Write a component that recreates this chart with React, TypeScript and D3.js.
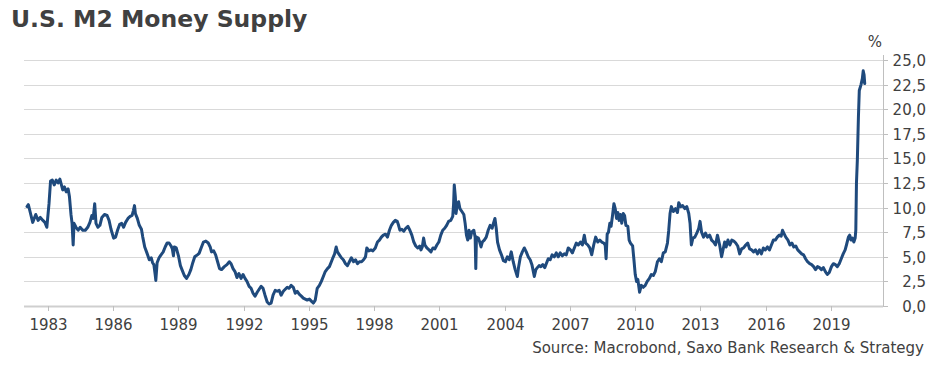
import React from 'react';
import * as d3 from 'd3';

const title = 'U.S. M2 Money Supply';
const source = 'Source: Macrobond, Saxo Bank Research & Strategy';
const unit = '%';
const xTicks = [1983, 1986, 1989, 1992, 1995, 1998, 2001, 2004, 2007, 2010, 2013, 2016, 2019];
const yTicks = [0, 2.5, 5, 7.5, 10, 12.5, 15, 17.5, 20, 22.5, 25];

const dates = [
  1982.04, 1982.1, 1982.2, 1982.3, 1982.44, 1982.55, 1982.65, 1982.77, 1982.86, 1982.95,
  1983.05, 1983.12, 1983.2, 1983.29, 1983.38, 1983.47, 1983.55, 1983.62, 1983.68, 1983.76,
  1983.84, 1983.93, 1983.99, 1984.06, 1984.11, 1984.16, 1984.2, 1984.29, 1984.39, 1984.48,
  1984.6, 1984.72, 1984.83, 1984.93, 1985.02, 1985.08, 1985.15, 1985.21, 1985.3, 1985.39,
  1985.48, 1985.6, 1985.72, 1985.81, 1985.9, 1986.02, 1986.11, 1986.2, 1986.3, 1986.39,
  1986.48, 1986.57, 1986.68, 1986.78, 1986.87, 1986.93, 1986.98, 1987.02, 1987.11, 1987.2,
  1987.3, 1987.36, 1987.45, 1987.55, 1987.66, 1987.75, 1987.81, 1987.87, 1987.93, 1987.96,
  1988.02, 1988.11, 1988.2, 1988.3, 1988.39, 1988.48, 1988.57, 1988.66, 1988.72, 1988.77,
  1988.81, 1988.9, 1989.0, 1989.09, 1989.18, 1989.27, 1989.37, 1989.48, 1989.57, 1989.66,
  1989.75, 1989.87,
  1989.95, 1990.06, 1990.15, 1990.26, 1990.37, 1990.46, 1990.52, 1990.62, 1990.71, 1990.8,
  1990.89, 1990.98, 1991.11, 1991.23, 1991.34, 1991.42, 1991.51, 1991.6, 1991.69, 1991.78,
  1991.88, 1991.97, 1992.06, 1992.15, 1992.25, 1992.34, 1992.43, 1992.52, 1992.62, 1992.71,
  1992.8, 1992.89, 1992.98, 1993.08, 1993.17, 1993.26, 1993.35, 1993.45, 1993.54, 1993.63,
  1993.72, 1993.82, 1993.91, 1994.0, 1994.09, 1994.18, 1994.28, 1994.37, 1994.46, 1994.55,
  1994.65, 1994.74, 1994.83, 1994.92, 1995.02, 1995.11, 1995.2, 1995.29, 1995.38, 1995.48,
  1995.57, 1995.66, 1995.75, 1995.85, 1995.94, 1996.03, 1996.12, 1996.18, 1996.25, 1996.31,
  1996.4, 1996.49, 1996.58, 1996.68, 1996.77, 1996.86, 1996.95, 1997.05, 1997.14, 1997.23,
  1997.32, 1997.42, 1997.51, 1997.6, 1997.66, 1997.75, 1997.85, 1997.94,
  1998.05, 1998.15, 1998.24, 1998.33, 1998.42, 1998.52, 1998.61, 1998.7, 1998.79, 1998.88,
  1998.97, 1999.06, 1999.12, 1999.18, 1999.27, 1999.36, 1999.45, 1999.55, 1999.64, 1999.73,
  1999.82, 1999.91, 2000.0, 2000.09, 2000.15, 2000.21, 2000.27, 2000.33, 2000.42, 2000.52,
  2000.61, 2000.7, 2000.79, 2000.88, 2000.97, 2001.06, 2001.15, 2001.24, 2001.33, 2001.42,
  2001.52, 2001.61, 2001.65, 2001.68, 2001.73, 2001.76, 2001.82, 2001.88, 2001.94, 2002.03,
  2002.12, 2002.18, 2002.24, 2002.3, 2002.36, 2002.42, 2002.48, 2002.58, 2002.64, 2002.67,
  2002.7, 2002.79, 2002.85, 2002.91, 2002.97, 2003.06, 2003.15, 2003.24, 2003.33, 2003.42,
  2003.48, 2003.55, 2003.61, 2003.67, 2003.76, 2003.85, 2003.94, 2004.03, 2004.12, 2004.21,
  2004.3, 2004.39, 2004.48, 2004.58, 2004.64, 2004.72, 2004.81, 2004.9, 2004.99, 2005.08,
  2005.17, 2005.25, 2005.36, 2005.43, 2005.5, 2005.58, 2005.66, 2005.75, 2005.84,
  2006.0, 2006.09, 2006.18, 2006.28, 2006.37, 2006.46, 2006.55, 2006.65, 2006.74, 2006.83,
  2006.92, 2007.02, 2007.11, 2007.2, 2007.29, 2007.38, 2007.48, 2007.57, 2007.66, 2007.72,
  2007.82, 2007.91, 2008.0, 2008.09, 2008.18, 2008.28, 2008.37, 2008.46, 2008.55, 2008.62,
  2008.66, 2008.71, 2008.77, 2008.83, 2008.89, 2008.95, 2009.02, 2009.08, 2009.14, 2009.2,
  2009.26, 2009.32, 2009.38, 2009.45, 2009.51, 2009.57, 2009.66, 2009.72, 2009.78, 2009.88,
  2009.94, 2010.0, 2010.06, 2010.12, 2010.2, 2010.28, 2010.37, 2010.46, 2010.55, 2010.65,
  2010.74, 2010.83, 2010.92, 2011.02, 2011.11, 2011.2, 2011.29, 2011.38, 2011.48, 2011.54,
  2011.6, 2011.66, 2011.75, 2011.85, 2011.94, 2012.0, 2012.09, 2012.18, 2012.28, 2012.37,
  2012.46, 2012.52, 2012.58, 2012.65, 2012.74, 2012.83, 2012.92, 2012.98, 2013.05, 2013.14,
  2013.23, 2013.32, 2013.42, 2013.51, 2013.6, 2013.69, 2013.78, 2013.88, 2013.97,
  2014.11, 2014.18, 2014.26, 2014.35, 2014.44, 2014.53, 2014.62, 2014.71, 2014.8, 2014.89,
  2014.98, 2015.08, 2015.17, 2015.26, 2015.35, 2015.44, 2015.53, 2015.62, 2015.71, 2015.8,
  2015.89, 2015.98, 2016.08, 2016.17, 2016.26, 2016.35, 2016.44, 2016.53, 2016.62, 2016.71,
  2016.77, 2016.83, 2016.92, 2017.02, 2017.11, 2017.2, 2017.29, 2017.38, 2017.47, 2017.56,
  2017.65, 2017.74, 2017.83, 2017.92, 2018.02, 2018.11, 2018.2, 2018.29, 2018.38, 2018.47,
  2018.56, 2018.65, 2018.74, 2018.83, 2018.92, 2019.02, 2019.11, 2019.2, 2019.29, 2019.38,
  2019.47, 2019.56, 2019.65, 2019.71, 2019.8, 2019.86, 2019.92, 2019.98, 2020.05, 2020.11,
  2020.14, 2020.17, 2020.21, 2020.26, 2020.3, 2020.38, 2020.44, 2020.48, 2020.52, 2020.55,
];

const values = [
  10.1, 10.3, 9.4, 8.5, 9.3, 8.7, 9.0, 8.7, 8.5, 8.0,
  10.4, 12.7, 12.8, 12.3, 12.8, 12.5, 12.9, 12.3, 11.8, 12.1,
  11.6, 11.9, 11.1, 9.3, 8.4, 6.2, 8.4, 8.0, 7.7, 8.0,
  7.7, 7.7, 8.0, 8.5, 9.2, 8.9, 10.4, 8.4, 8.0, 8.2,
  9.0, 9.3, 9.2, 8.7, 7.8, 6.9, 7.0, 7.7, 8.3, 8.4,
  8.0, 8.5, 8.9, 9.1, 9.2, 9.7, 10.2, 9.4, 8.9, 8.2,
  7.8, 7.0, 6.0, 5.4, 4.7, 4.9, 4.4, 4.2, 3.2, 2.6,
  4.4, 4.9, 5.2, 5.5, 6.0, 6.4, 6.4, 6.1, 5.8, 5.1,
  6.0, 5.9, 5.1, 4.1, 3.6, 3.1, 2.8, 3.2, 3.7, 4.4,
  5.0, 5.2,
  5.35, 6.0, 6.5, 6.6, 6.4, 6.0, 5.5, 5.6, 5.2, 4.5,
  3.8, 3.7, 4.0, 4.2, 4.5, 4.3, 3.8, 3.5, 2.9, 3.3,
  2.8, 3.2, 2.8, 2.5, 2.0, 1.8, 1.3, 1.0, 1.4, 1.7,
  2.0, 1.8, 1.1, 0.4, 0.2, 0.3, 1.1, 1.6, 1.5, 1.6,
  1.1, 1.5, 1.7, 1.9, 1.8, 2.1, 1.9, 1.3, 1.5, 1.2,
  1.0, 0.8, 0.7, 0.6, 0.7, 0.5, 0.3, 0.6, 1.8, 2.1,
  2.5, 3.0, 3.5, 3.8, 4.0, 4.5, 5.0, 5.3, 6.0, 5.5,
  5.2, 4.9, 4.7, 4.3, 4.1, 4.5, 4.9, 4.5, 4.7, 4.3,
  4.5, 4.5, 4.7, 5.0, 5.9, 5.6, 5.7, 5.6,
  5.9, 6.5, 6.7, 7.0, 7.2, 7.3, 7.0, 7.7, 8.2, 8.5,
  8.7, 8.6, 8.2, 7.7, 7.8, 7.6, 7.9, 8.1, 7.7, 7.2,
  6.5, 6.1, 5.9, 6.1, 5.7, 6.0, 6.9, 6.2, 5.9, 5.7,
  5.5, 5.9, 5.8, 6.2, 6.5, 7.2, 7.7, 7.9, 8.2, 8.6,
  8.7, 9.1, 10.4, 12.3, 11.1, 9.4, 10.3, 10.6, 9.9, 9.6,
  9.3, 8.4, 7.2, 6.7, 7.7, 6.9, 7.5, 7.7, 7.0, 3.8,
  7.0, 6.9, 6.5, 6.0, 6.5, 6.7, 7.0, 7.7, 8.2, 7.9,
  8.4, 8.9, 7.9, 6.5, 5.7, 5.2, 4.6, 4.5, 5.0, 4.7,
  5.5, 4.5, 3.7, 3.0, 4.0, 5.0, 5.5, 5.9, 5.5, 5.0,
  4.7, 4.2, 3.0, 3.7, 3.9, 4.1, 4.0, 4.2, 3.9,
  4.8, 4.7, 5.2, 5.0, 5.4, 5.0, 5.4, 5.1, 5.3, 5.2,
  5.9, 5.7, 5.4, 5.9, 6.4, 6.2, 6.5, 6.2, 7.2, 6.4,
  6.2, 5.9, 5.2, 6.2, 7.0, 6.5, 6.7, 6.5, 6.4, 6.2,
  4.8, 7.3, 7.5, 8.4, 8.1, 9.1, 10.4, 9.9, 8.9, 9.5,
  8.7, 9.3, 8.4, 9.4, 9.2, 8.2, 8.1, 6.7, 6.4, 6.1,
  4.7, 3.2, 2.5, 2.7, 1.4, 2.1, 1.9, 2.1, 2.5, 2.8,
  3.2, 3.1, 3.5, 4.5, 4.8, 4.5, 5.4, 5.5, 6.4, 7.7,
  9.4, 10.1, 9.6, 9.9, 9.5, 10.5, 10.1, 10.2, 9.9, 10.1,
  9.4, 8.4, 6.2, 6.9, 7.0, 7.4, 7.9, 8.6, 7.5, 7.0,
  7.4, 7.0, 7.2, 6.7, 6.5, 6.2, 7.2, 6.2, 5.0,
  6.5, 6.0, 6.7, 6.2, 6.7, 6.6, 6.4, 6.1, 5.3, 5.8,
  5.9, 6.2, 6.4, 5.8, 5.7, 5.5, 5.7, 5.3, 5.7, 5.3,
  5.9, 5.7, 6.0, 5.7, 6.2, 6.7, 6.7, 7.0, 7.2, 7.1,
  7.7, 7.4, 7.0, 6.7, 6.2, 6.4, 6.0, 6.1, 5.7, 5.5,
  5.3, 5.2, 4.8, 4.5, 4.3, 4.2, 4.0, 3.7, 4.0, 3.9,
  3.7, 3.9, 3.5, 3.2, 3.4, 4.0, 4.3, 4.2, 4.0, 4.3,
  4.8, 5.3, 5.7, 6.2, 7.0, 7.2, 6.7, 6.9, 6.5, 6.9,
  7.7, 12.5, 14.8, 19.2, 21.9, 22.5, 23.1, 23.9, 23.5, 22.6,
];

const fmt = (v: number) => d3.format('.1f')(v).replace('.', ',');

export default function App() {
  const W = 939;
  const H = 368;
  const left = 24;
  const right = 883;
  const x = d3.scaleLinear().domain([1981.9, 2021.39]).range([left, right]);
  const y = d3.scaleLinear().domain([0, 25]).range([306, 60]);
  const pts: [number, number][] = dates.map((d, i) => [d, values[i]]);
  const line = d3
    .line<[number, number]>()
    .x((d) => x(d[0]))
    .y((d) => y(d[1]));
  const font = '"DejaVu Sans", Verdana, sans-serif';
  const textColor = '#404040';

  return (
    <svg
      width={W}
      height={H}
      style={{ position: 'absolute', left: 0, top: 0, background: '#fff' }}
      fontFamily={font}
    >
      <text x={11} y={27} fontSize={23.5} fontWeight="bold" fill={textColor}>
        {title}
      </text>
      {yTicks.map((t) => {
        const yy = Math.round(y(t)) + 0.5;
        return (
          <g key={t}>
            <line
              x1={left}
              x2={right}
              y1={yy}
              y2={yy}
              stroke={t === 0 ? '#cfcfcf' : '#d9d9d9'}
              strokeWidth={t === 0 ? 2 : 1}
            />
            <line x1={right} x2={right + 5} y1={yy} y2={yy} stroke="#bfbfbf" strokeWidth={1} />
            <text
              x={926}
              y={yy}
              dy="0.36em"
              fontSize={15}
              textAnchor="end"
              fill={textColor}
            >
              {fmt(t)}
            </text>
          </g>
        );
      })}
      <line x1={right + 0.5} x2={right + 0.5} y1={55} y2={307} stroke="#bfbfbf" strokeWidth={1} />
      <text x={882} y={47} fontSize={15} textAnchor="end" fill={textColor}>
        {unit}
      </text>
      {xTicks.map((t) => {
        const xx = Math.round(x(t)) + 0.5;
        return (
          <g key={t}>
            <line x1={xx} x2={xx} y1={306} y2={311} stroke="#bfbfbf" strokeWidth={1} />
            <text x={xx} y={330} fontSize={15} textAnchor="middle" fill={textColor}>
              {t}
            </text>
          </g>
        );
      })}
      <path
        d={line(pts) || ''}
        fill="none"
        stroke="#1f4a7d"
        strokeWidth={3}
        strokeLinejoin="round"
        strokeLinecap="round"
      />
      <text x={924} y={353} fontSize={15} textAnchor="end" fill={textColor}>
        {source}
      </text>
    </svg>
  );
}
